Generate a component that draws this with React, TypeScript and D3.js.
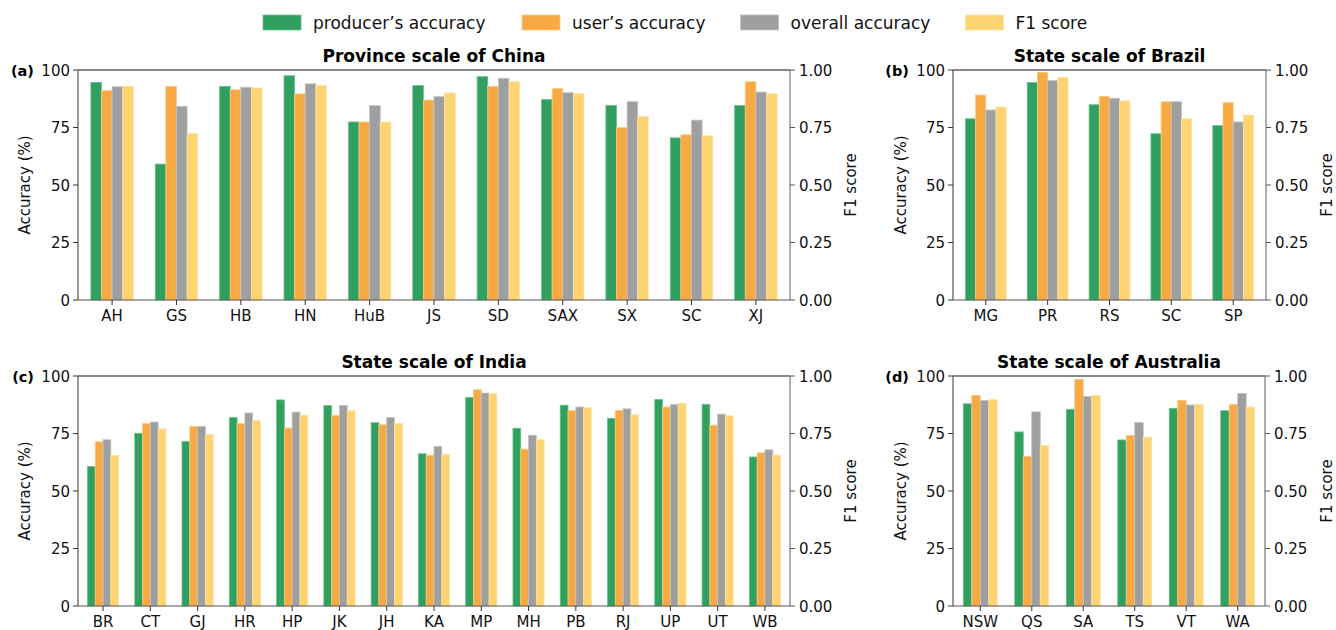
import React from "react";
import * as d3 from "d3";

// ---- Data ----
const seriesNames = ["producer\u2019s accuracy", "user\u2019s accuracy", "overall accuracy", "F1 score"];
const seriesColors = ["#31a05f", "#f7aa43", "#9f9f9f", "#fdd471"];
const seriesEdges = ["#6cc08f", "#fbc983", "#c2c2c2", "#fee3a4"];

const chinaCats = ["AH", "GS", "HB", "HN", "HuB", "JS", "SD", "SAX", "SX", "SC", "XJ"];
const chinaProducer = [94.6, 59.1, 92.9, 97.5, 77.4, 93.3, 97.1, 87.2, 84.6, 70.5, 84.6];
const chinaUser = [91.0, 92.9, 91.4, 89.6, 77.4, 86.9, 92.9, 91.9, 75.0, 71.8, 94.9];
const chinaOverall = [92.7, 84.2, 92.5, 94.0, 84.5, 88.4, 96.4, 90.1, 86.2, 78.2, 90.4];
const chinaF1 = [0.929, 0.723, 0.922, 0.933, 0.774, 0.9, 0.949, 0.897, 0.797, 0.714, 0.897];

const brazilCats = ["MG", "PR", "RS", "SC", "SP"];
const brazilProducer = [78.8, 94.6, 84.9, 72.3, 75.8];
const brazilUser = [89.1, 99.0, 88.4, 86.2, 85.8];
const brazilOverall = [82.6, 95.4, 87.7, 86.2, 77.4];
const brazilF1 = [0.839, 0.967, 0.866, 0.788, 0.804];

const indiaCats = ["BR", "CT", "GJ", "HR", "HP", "JK", "JH", "KA", "MP", "MH", "PB", "RJ", "UP", "UT", "WB"];
const indiaProducer = [60.7, 75.1, 71.6, 81.9, 89.6, 87.2, 79.7, 66.2, 90.7, 77.3, 87.3, 81.6, 89.8, 87.7, 64.8];
const indiaUser = [71.4, 79.3, 78.1, 79.3, 77.4, 82.9, 78.8, 65.5, 94.0, 68.2, 85.0, 85.0, 86.5, 78.6, 66.6];
const indiaOverall = [72.3, 80.0, 78.1, 83.9, 84.3, 87.2, 81.9, 69.4, 92.6, 74.2, 86.5, 85.7, 87.7, 83.4, 67.9];
const indiaF1 = [0.655, 0.77, 0.746, 0.806, 0.83, 0.849, 0.793, 0.659, 0.923, 0.724, 0.862, 0.831, 0.881, 0.827, 0.656];

const ausCats = ["NSW", "QS", "SA", "TS", "VT", "WA"];
const ausProducer = [87.9, 75.7, 85.5, 72.2, 85.9, 84.9];
const ausUser = [91.6, 65.0, 98.5, 74.1, 89.4, 87.6];
const ausOverall = [89.4, 84.4, 91.1, 79.8, 87.4, 92.4];
const ausF1 = [0.897, 0.698, 0.916, 0.734, 0.876, 0.865];

const accTicks = [0, 25, 50, 75, 100];
const f1Ticks = [0, 0.25, 0.5, 0.75, 1.0];

const FONT = "DejaVu Sans, sans-serif";

type PanelProps = {
  left: number; top: number; right: number; bottom: number;
  cats: string[]; producer: number[]; user: number[]; overall: number[]; f1: number[];
  title: string; tag: string; leftLabelX: number; rightLabelX: number;
};

function Panel(p: PanelProps) {
  const n = p.cats.length;
  const x = d3.scaleLinear().domain([-0.53, n - 0.47]).range([p.left, p.right]);
  const yAcc = d3.scaleLinear().domain([0, 100]).range([p.bottom, p.top]);
  const yF1 = d3.scaleLinear().domain([0, 1]).range([p.bottom, p.top]);
  const bw = 0.165;
  const unit = x(1) - x(0);
  const series = [p.producer, p.user, p.overall, p.f1];
  const bars: JSX.Element[] = [];
  p.cats.forEach((c, i) => {
    series.forEach((vals, s) => {
      const v = vals[i];
      const yTop = s === 3 ? yF1(v) : yAcc(v);
      const x0 = x(i + (s - 2) * bw);
      bars.push(
        <rect key={c + s} x={x0} y={yTop} width={bw * unit} height={p.bottom - yTop}
          fill={seriesColors[s]} stroke={seriesEdges[s]} strokeWidth={0.8} />
      );
    });
  });
  const midY = (p.top + p.bottom) / 2;
  const midX = (p.left + p.right) / 2;
  return (
    <g fontFamily={FONT}>
      {bars}
      <line x1={p.left} x2={p.right} y1={p.top} y2={p.top} stroke="#111" strokeWidth={1} />
      <line x1={p.left} x2={p.right} y1={p.bottom} y2={p.bottom} stroke="#555" strokeWidth={1.2} />
      <line x1={p.left} x2={p.left} y1={p.top} y2={p.bottom} stroke="#555" strokeWidth={1.2} />
      <line x1={p.right} x2={p.right} y1={p.top} y2={p.bottom} stroke="#777" strokeWidth={1.2} />
      {accTicks.map((t) => (
        <g key={"l" + t}>
          <line x1={p.left - 5} x2={p.left} y1={yAcc(t)} y2={yAcc(t)} stroke="#333" />
          <text x={p.left - 8} y={yAcc(t) + 5.5} textAnchor="end" fontSize={15} fill="#111">{t}</text>
        </g>
      ))}
      {f1Ticks.map((t) => (
        <g key={"r" + t}>
          <line x1={p.right} x2={p.right + 5} y1={yF1(t)} y2={yF1(t)} stroke="#555" />
          <text x={p.right + 9} y={yF1(t) + 5.5} textAnchor="start" fontSize={15} fill="#111">{t.toFixed(2)}</text>
        </g>
      ))}
      {p.cats.map((c, i) => (
        <g key={"x" + c}>
          <line x1={x(i)} x2={x(i)} y1={p.bottom} y2={p.bottom + 5} stroke="#333" />
          <text x={x(i)} y={p.bottom + 21} textAnchor="middle" fontSize={15} fill="#111">{c}</text>
        </g>
      ))}
      <text transform={`translate(${p.leftLabelX},${midY}) rotate(-90)`} textAnchor="middle"
        dominantBaseline="central" fontSize={15} fill="#111">Accuracy (%)</text>
      <text transform={`translate(${p.rightLabelX},${midY}) rotate(-90)`} textAnchor="middle"
        dominantBaseline="central" fontSize={15} fill="#111">F1 score</text>
      <text x={midX} y={p.top - 8} textAnchor="middle" fontSize={17} fontWeight="bold" fill="#000">{p.title}</text>
      <text x={p.left - 44} y={p.top + 6} textAnchor="end" fontSize={14.5} fontWeight="bold" fill="#000">{p.tag}</text>
    </g>
  );
}

function Legend() {
  const items = [263, 522, 740.5, 965.5];
  return (
    <g fontFamily={FONT}>
      {items.map((px, i) => (
        <g key={i}>
          <rect x={px} y={15} width={38} height={15} fill={seriesColors[i]} stroke={seriesEdges[i]} strokeWidth={0.8} />
          <text x={px + 50} y={28.5} fontSize={17} fill="#111">{seriesNames[i]}</text>
        </g>
      ))}
    </g>
  );
}

export default function App() {
  return (
    <svg width={1336} height={630} style={{ position: "absolute", left: 0, top: 0, background: "#fff" }}>
      <rect x={0} y={0} width={1336} height={630} fill="#fff" />
      <Legend />
      <Panel left={78} top={70} right={790} bottom={300} cats={chinaCats} producer={chinaProducer}
        user={chinaUser} overall={chinaOverall} f1={chinaF1} title="Province scale of China" tag="(a)"
        leftLabelX={25} rightLabelX={851} />
      <Panel left={953} top={70} right={1266} bottom={300} cats={brazilCats} producer={brazilProducer}
        user={brazilUser} overall={brazilOverall} f1={brazilF1} title="State scale of Brazil" tag="(b)"
        leftLabelX={901} rightLabelX={1327} />
      <Panel left={78} top={376} right={790} bottom={606} cats={indiaCats} producer={indiaProducer}
        user={indiaUser} overall={indiaOverall} f1={indiaF1} title="State scale of India" tag="(c)"
        leftLabelX={25} rightLabelX={851} />
      <Panel left={953} top={376} right={1265} bottom={606} cats={ausCats} producer={ausProducer}
        user={ausUser} overall={ausOverall} f1={ausF1} title="State scale of Australia" tag="(d)"
        leftLabelX={901} rightLabelX={1327} />
    </svg>
  );
}
